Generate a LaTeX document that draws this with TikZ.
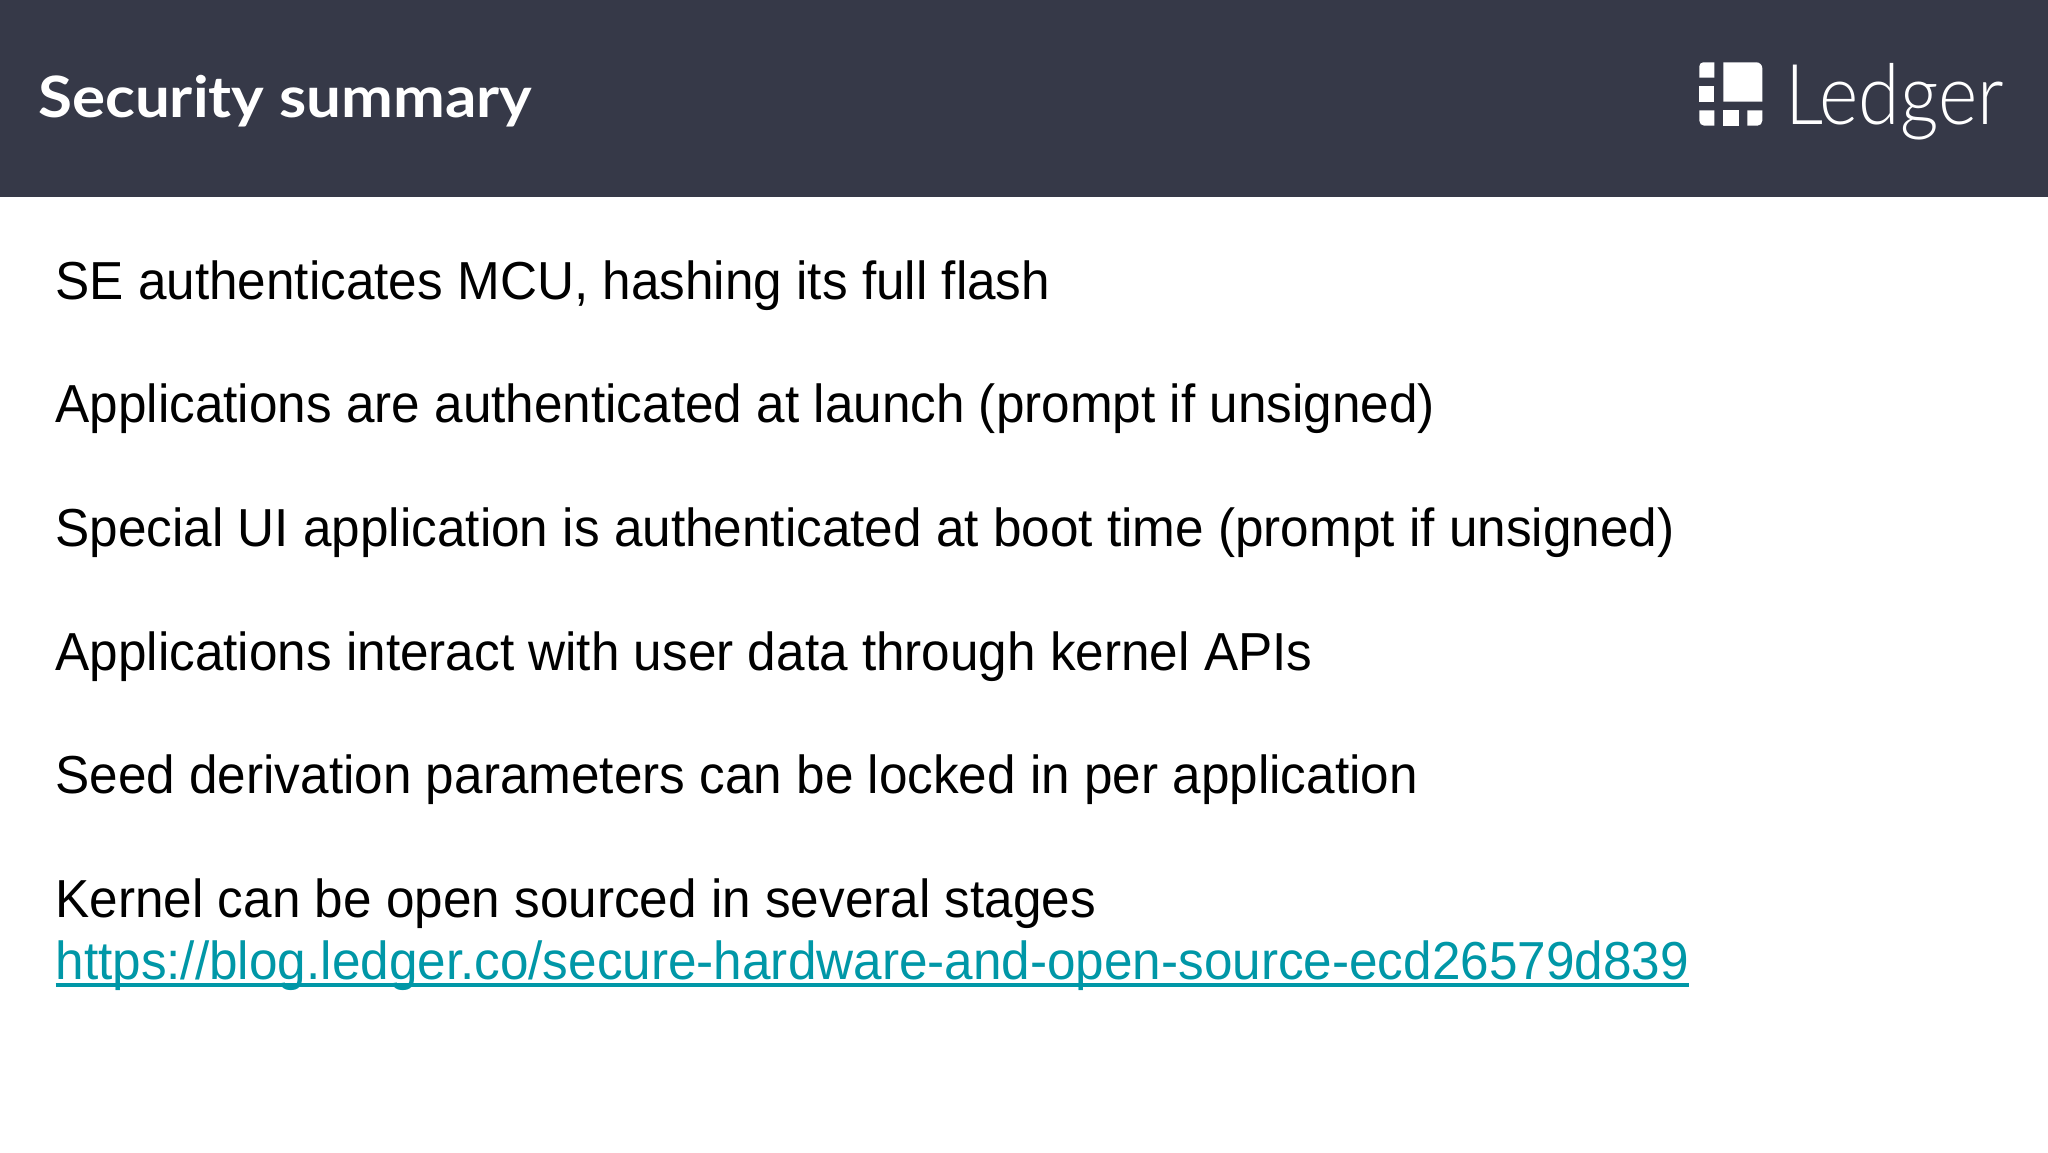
\documentclass[tikz,border=0pt]{standalone}
\usepackage{fontspec}
\setmainfont{Liberation Sans}[FakeStretch=0.9585]
\newfontfamily\titlefont{Lato}[UprightFont=* Bold,FakeStretch=1.086]
\newfontfamily\logofont{Lato}[UprightFont=* Light,FakeStretch=0.895]
\definecolor{headbar}{HTML}{363948}
\definecolor{linkcol}{HTML}{0097A7}
\tikzset{
  bodytext/.style={anchor=base west,inner sep=0pt,outer sep=0pt,text=black,font=\fontsize{53.5}{60}\selectfont},
  linktext/.style={bodytext,text=linkcol},
  logobit/.style={fill=white,draw=none},
}
\begin{document}
\begin{tikzpicture}[x=1pt,y=-1pt]
\useasboundingbox (0,0) rectangle (2048,1152);
\fill[white] (0,0) rectangle (2048,1152);
\fill[headbar] (0,0) rectangle (2048,197);
\node[anchor=base west,inner sep=0pt,text=white,font=\titlefont\fontsize{57}{60}\selectfont] (title) at (38,117) {Security summary};
% logo
\fill[logobit] (1699.3,77.7) -- (1699.3,66.3) arc[start angle=180,end angle=90,radius=4,y radius=-4] -- (1714.3,62.3) -- (1714.3,77.7) -- cycle;
\fill[logobit] (1699.3,86) rectangle (1714.3,101.7);
\fill[logobit] (1723.3,62.3) -- (1756.3,62.3) arc[start angle=90,end angle=0,radius=6,y radius=-6] -- (1762.3,101.7) -- (1723.3,101.7) -- cycle;
\fill[logobit] (1699.3,110.3) -- (1714.3,110.3) -- (1714.3,125.7) -- (1704.3,125.7) arc[start angle=270,end angle=180,radius=5,y radius=-5] -- cycle;
\fill[logobit] (1723.3,110.3) rectangle (1738.7,125.7);
\fill[logobit] (1747.3,110.3) -- (1762.3,110.3) -- (1762.3,120.7) arc[start angle=0,end angle=-90,radius=5,y radius=-5] -- (1747.3,125.7) -- cycle;
\node[anchor=base west,inner sep=0pt,text=white,font=\logofont\fontsize{84}{90}\selectfont] (logotext) at (1785,124) {Ledger};
% body
\node[bodytext] (l1) at (55.5,299) {SE authenticates MCU, hashing its full flash};
\node[bodytext] (l2) at (55.5,422.5) {Applications are authenticated at launch (prompt if unsigned)};
\node[bodytext] (l3) at (55.5,546.5) {Special UI application is authenticated at boot time (prompt if unsigned)};
\node[bodytext] (l4) at (55.5,670) {Applications interact with user data through kernel APIs};
\node[bodytext] (l5) at (55.5,793.5) {Seed derivation parameters can be locked in per application};
\node[bodytext] (l6) at (55.5,917.5) {Kernel can be open sourced in several stages};
\node[linktext] (l7) at (55.5,979) {https://blog.ledger.co/secure-hardware-and-open-source-ecd26579d839};
\draw[linkcol,line width=3.6pt] ([yshift=-6pt]l7.base west) -- ([yshift=-6pt]l7.base east);
\end{tikzpicture}
\end{document}
